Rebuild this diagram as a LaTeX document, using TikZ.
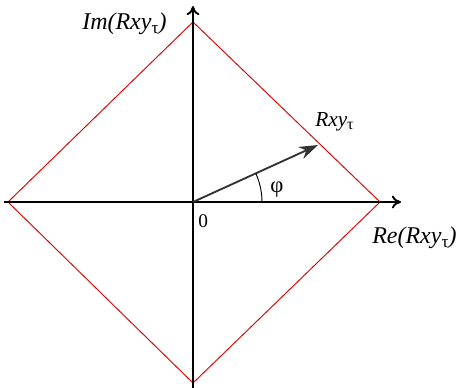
\documentclass[tikz,border=0pt]{standalone}
\usepackage{fontspec}
\setmainfont{Liberation Serif}
\usetikzlibrary{arrows.meta,positioning}
\tikzset{
  axis/.style = {-{To[length=2.4mm,width=3.4mm]}, line width=1.4pt},
  rim/.style  = {red!85!black, line width=0.7pt, line join=miter},
  vec/.style  = {-{Stealth[length=5mm,width=3.4mm]}, line width=1.4pt, black!80},
  lbl/.style  = {font=\fontsize{14.5}{16}\selectfont, inner sep=0pt},
  big/.style  = {font=\fontsize{18}{20}\selectfont\itshape, inner sep=0pt},
}
\newcommand{\tausub}[1]{\raisebox{-0.4ex}{\fontsize{#1}{#1}\selectfont\upshape τ}}

\begin{document}
\begin{tikzpicture}[x=0.75pt,y=0.75pt]
    \useasboundingbox (-193,-185) rectangle (266,202);
    % points
    \coordinate (O) at (0,0);
    \coordinate (west) at (-185,0);
    \coordinate (east) at (187,0);
    \coordinate (north) at (0,180);
    \coordinate (south) at (0,-181);
    \coordinate (xs) at (-189,0);
    \coordinate (xe) at (208,0);
    \coordinate (ys) at (0,-186);
    \coordinate (ye) at (0,196);
    \coordinate (tip) at (125,57);
    % diamond
    \draw[rim] (west) -- (north) -- (east) -- (south) -- cycle;
    % axes
    \draw[axis] (xs) -- (xe);
    \draw[axis] (ys) -- (ye);
    % vector and angle
    \draw[vec] (O) -- (tip);
    \draw[line width=0.7pt] (69,0) arc[start angle=0, end angle=24.5, radius=69];
    % labels
    \node[lbl, font=\fontsize{17}{18}\selectfont, anchor=base] (phi) at (84,10) {φ};
    \node[lbl, anchor=base west] (zero) at (5,-25) {0};
    \node[lbl, font=\fontsize{16}{18}\selectfont, anchor=base west] (vlab) at (122,76) {\itshape Rxy\tausub{12}};
    \node[big, anchor=base west] (im) at (-111,173) {Im(Rxy\tausub{13})};
    \node[big, anchor=base west] (re) at (179,-41) {Re(Rxy\tausub{13})};
\end{tikzpicture}
\end{document}
